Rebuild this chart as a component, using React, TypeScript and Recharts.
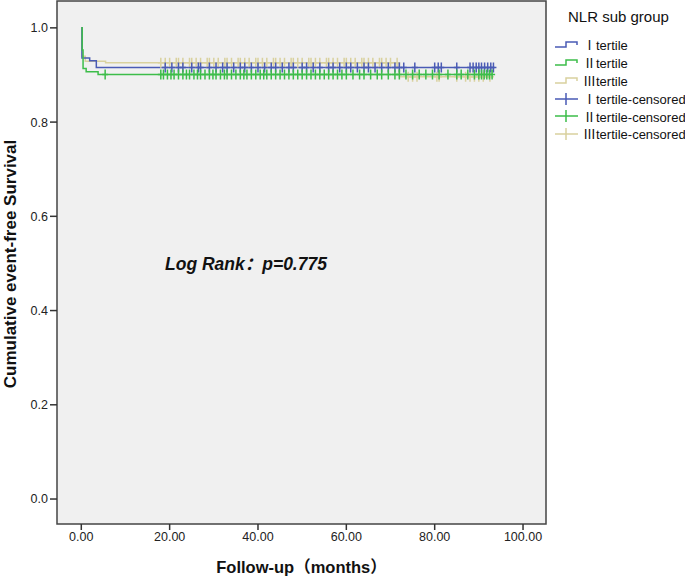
import React from 'react';
import { ComposedChart, Line, Scatter, XAxis, YAxis, ReferenceArea } from 'recharts';

// KM step points (months, survival)
const tertile1Times = [0, 0.15, 1.9, 3.4, 93.6];
const tertile1Surv = [1.0, 0.936, 0.93, 0.916, 0.916];
const tertile2Times = [0, 0.2, 0.4, 1.1, 3.8, 93.2];
const tertile2Surv = [1.0, 0.953, 0.914, 0.907, 0.901, 0.901];
const tertile3Times = [0, 0.15, 0.9, 5.5, 72, 93.4];
const tertile3Surv = [1.0, 0.94, 0.929, 0.926, 0.896, 0.896];

// censored follow-up times
const tertile1Censored = [19, 20.5, 22, 23, 25, 26.5, 27, 29, 30.5, 32, 33, 34.5, 36, 37, 38.5, 40, 41.5, 43, 44, 45.5, 47, 48, 50, 51, 52.5, 54, 56, 57, 58.5, 60, 61, 62.5, 64, 65, 66.5, 68, 69.5, 71, 72, 73, 75.5, 80, 80.8, 81.5, 85, 88, 88.7, 89.4, 90, 90.6, 91.3, 92, 92.7, 93.3];
const tertile2Censored = [5.4, 18, 18.6, 19.5, 20.3, 21, 22, 23, 23.8, 24.5, 25.5, 26.3, 27, 28, 29, 29.8, 30.5, 31.5, 32.4, 33, 34, 35, 36, 36.8, 37.5, 38.5, 39.5, 40.5, 41.3, 42, 43, 44, 45, 46, 47, 48, 49, 50, 51, 52, 53, 54, 55, 56, 57, 58, 59, 60, 61.5, 63, 64, 65.5, 67, 68, 69.5, 71, 72, 73.5, 75, 76.5, 78, 79.5, 81, 83, 85, 86, 87.5, 89, 90, 90.6, 91.2, 91.8, 92.4, 93];
const tertile3Censored = [18, 19, 20, 21.5, 22, 23, 24.5, 25, 26, 27, 28.5, 29, 30, 31, 32.5, 33, 34, 35.5, 36, 37, 38, 39.5, 40, 41, 42, 43.5, 44, 45, 46, 47.5, 48, 49, 50, 51.5, 52, 53, 54, 55.5, 56, 57, 58, 59.5, 60, 61, 62, 63.5, 64, 65, 66, 67.5, 68, 69, 70, 71.5, 74, 75, 76, 80.5, 81, 85, 87, 88, 89, 90, 91, 92.5];

const xTicks = [0, 20, 40, 60, 80, 100];
const yTicks = [0, 0.2, 0.4, 0.6, 0.8, 1.0];

const groupNames = ['Ⅰtertile', 'Ⅱtertile', 'Ⅲtertile'];
const colors = ['#4a5bb5', '#3dbd4a', '#d9d19e'];

const X_DOMAIN: [number, number] = [-5.5, 105.2];
const Y_DOMAIN: [number, number] = [-0.053, 1.057];

const toSteps = (times: number[], surv: number[]) => times.map((t, i) => ({ t, s: surv[i] }));

const survAt = (times: number[], surv: number[], t: number) => {
  let s = surv[0];
  times.forEach((tt, i) => {
    if (tt <= t) s = surv[i];
  });
  return s;
};

const groups = [
  { name: groupNames[0], color: colors[0], times: tertile1Times, surv: tertile1Surv, censored: tertile1Censored },
  { name: groupNames[1], color: colors[1], times: tertile2Times, surv: tertile2Surv, censored: tertile2Censored },
  { name: groupNames[2], color: colors[2], times: tertile3Times, surv: tertile3Surv, censored: tertile3Censored },
];

const drawOrder = [2, 0, 1];

const Plus = (props: any) => {
  const { cx, cy, fill } = props;
  if (cx == null || cy == null) return null;
  return <path d={`M${cx - 3},${cy} H${cx + 3} M${cx},${cy - 5} V${cy + 5}`} stroke={fill} strokeWidth={1.5} fill="none" />;
};

const font = '"Liberation Sans", Arial, "Noto Sans CJK SC", sans-serif';

function LegendBox() {
  return (
    <div style={{ position: 'absolute', left: 548, top: 0, width: 137, fontFamily: font, color: '#111' }}>
      <div style={{ position: 'absolute', left: 20, top: 8, fontSize: 15, whiteSpace: 'nowrap' }}>NLR sub group</div>
      {groups.map((g, i) => (
        <div key={g.name} style={{ position: 'absolute', left: 7, top: 35 + i * 18, display: 'flex', alignItems: 'center', whiteSpace: 'nowrap', fontSize: 13 }}>
          <svg width={24} height={10}>
            <path d="M0,7 H11 V2 H22 V5" stroke={g.color} strokeWidth={1.5} fill="none" />
          </svg>
          <span style={{ marginLeft: 4 }}>{g.name}</span>
        </div>
      ))}
      {groups.map((g, i) => (
        <div key={g.name + 'c'} style={{ position: 'absolute', left: 7, top: 89 + i * 17.5, display: 'flex', alignItems: 'center', whiteSpace: 'nowrap', fontSize: 13 }}>
          <svg width={24} height={12}>
            <path d="M0,6 H23 M11,0 V12" stroke={g.color} strokeWidth={1.5} fill="none" />
          </svg>
          <span style={{ marginLeft: 4 }}>{g.name}-censored</span>
        </div>
      ))}
    </div>
  );
}

export default function App() {
  return (
    <div style={{ position: 'relative', width: 685, height: 577, background: '#fff', fontFamily: font }}>
      <style>{'body{margin:0}'}</style>
      <ComposedChart width={685} height={577} margin={{ top: 1, right: 139, bottom: 0, left: 0 }}>
        <XAxis
          type="number"
          dataKey="t"
          domain={X_DOMAIN}
          ticks={xTicks}
          allowDataOverflow
          tickFormatter={(v: number) => v.toFixed(2)}
          height={53}
          axisLine={false}
          tickSize={6}
          tickLine={{ stroke: '#333', strokeWidth: 1.5 }}
          tick={{ fill: '#222', fontSize: 12.5, fontFamily: font }}
          label={{ value: 'Follow-up（months）', position: 'insideBottom', offset: 4, style: { fontWeight: 'bold', fontSize: 16.5, fill: '#111', fontFamily: font } }}
        />
        <YAxis
          type="number"
          dataKey="s"
          domain={Y_DOMAIN}
          ticks={yTicks}
          allowDataOverflow
          tickFormatter={(v: number) => v.toFixed(1)}
          width={57}
          axisLine={false}
          tickSize={7}
          tickLine={{ stroke: '#333', strokeWidth: 1.5 }}
          tick={{ fill: '#222', fontSize: 12.5, fontFamily: font }}
        />
        <ReferenceArea x1={X_DOMAIN[0]} x2={X_DOMAIN[1]} y1={Y_DOMAIN[0]} y2={Y_DOMAIN[1]} fill="#f0f0f0" fillOpacity={1} stroke="#444" strokeWidth={1.5} ifOverflow="visible" />
        {drawOrder.map((i) => (
          <Line
            key={groups[i].name}
            data={toSteps(groups[i].times, groups[i].surv)}
            dataKey="s"
            type="stepAfter"
            stroke={groups[i].color}
            strokeWidth={1.5}
            dot={false}
            isAnimationActive={false}
          />
        ))}
        {drawOrder.map((i) => (
          <Scatter
            key={groups[i].name + '-c'}
            data={groups[i].censored.map((t) => ({ t, s: survAt(groups[i].times, groups[i].surv, t) }))}
            dataKey="s"
            fill={groups[i].color}
            shape={<Plus />}
            isAnimationActive={false}
          />
        ))}
      </ComposedChart>
      <div
        style={{
          position: 'absolute',
          left: 11,
          top: 264,
          transform: 'translate(-50%, -50%) rotate(-90deg)',
          fontSize: 17,
          fontWeight: 'bold',
          color: '#111',
          whiteSpace: 'nowrap',
        }}
      >
        Cumulative event-free Survival
      </div>
      <div style={{ position: 'absolute', left: 165, top: 250, fontSize: 17.5, fontWeight: 'bold', fontStyle: 'italic', color: '#111', whiteSpace: 'nowrap' }}>
        Log Rank：p=0.775
      </div>
      <LegendBox />
    </div>
  );
}
